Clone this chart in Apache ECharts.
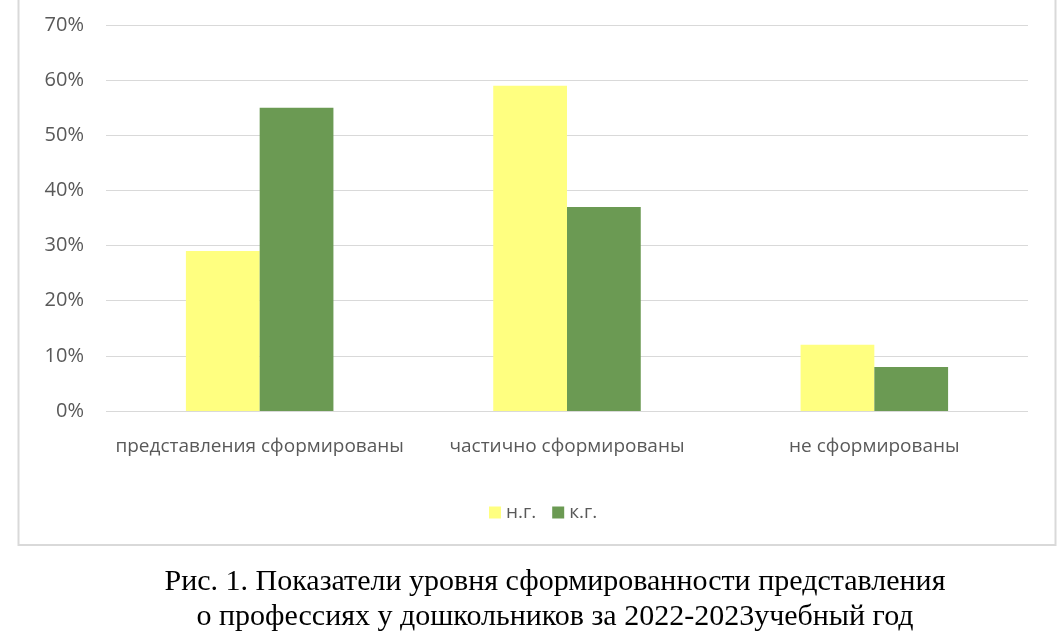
<!DOCTYPE html>
<html>
<head>
<meta charset="utf-8">
<script src="https://cdn.jsdelivr.net/npm/echarts@6/dist/echarts.min.js"></script>
<style>
  html, body { margin: 0; padding: 0; background: #fff; }
  #chart { width: 1060px; height: 637px; }
</style>
</head>
<body>
<div id="chart"></div>
<script>
// данные
var categories = ['представления сформированы', 'частично сформированы', 'не сформированы'];
var seriesNames = ['н.г.', 'к.г.'];
var ngValues = [29, 59, 12];
var kgValues = [55, 37, 8];
var captionLines = [
    'Рис. 1. Показатели уровня сформированности представления',
    'о профессиях у дошкольников за 2022-2023учебный год'
];

var colors = ['#FFFF80', '#6B9A53'];
var labelFont = '"Open Sans", "Noto Sans", sans-serif';
var captionFont = '"Liberation Serif", "Times New Roman", serif';

var myChart = echarts.init(document.getElementById('chart'));
var option = {
    color: colors,
    animation: false,
    grid: {
        left: 106,
        right: 32,
        top: 25,
        bottom: 226,
        containLabel: false
    },
    legend: {
        data: seriesNames,
        left: 484,
        top: 498,
        itemWidth: 12,
        itemHeight: 12,
        itemGap: 16,
        icon: 'rect',
        textStyle: {
            color: '#595959',
            fontSize: 19,
            fontFamily: labelFont
        }
    },
    xAxis: {
        type: 'category',
        data: categories,
        axisLine: { show: false },
        axisTick: { show: false },
        axisLabel: {
            interval: 0,
            color: '#595959',
            fontSize: 19,
            fontFamily: labelFont,
            margin: 26
        }
    },
    yAxis: {
        type: 'value',
        min: 0,
        max: 70,
        interval: 10,
        axisLine: { show: false },
        axisTick: { show: false },
        axisLabel: {
            color: '#595959',
            fontSize: 20,
            fontFamily: labelFont,
            margin: 22,
            formatter: '{value}%'
        },
        splitLine: {
            lineStyle: { color: '#D9D9D9', width: 1 }
        }
    },
    series: [
        {
            name: seriesNames[0],
            type: 'bar',
            data: ngValues,
            barGap: '0%',
            barCategoryGap: '52%'
        },
        {
            name: seriesNames[1],
            type: 'bar',
            data: kgValues,
            barGap: '0%',
            barCategoryGap: '52%'
        }
    ],
    graphic: [
        {
            type: 'rect',
            shape: { x: 18.5, y: -10, width: 1037, height: 555 },
            style: { fill: 'none', stroke: '#D9D9D9', lineWidth: 2 },
            z: -1
        },
        {
            type: 'text',
            x: 555,
            y: 567,
            style: {
                text: captionLines[0],
                align: 'center',
                fill: '#000',
                fontSize: 30,
                fontFamily: captionFont
            }
        },
        {
            type: 'text',
            x: 555,
            y: 602,
            style: {
                text: captionLines[1],
                align: 'center',
                fill: '#000',
                fontSize: 30,
                fontFamily: captionFont
            }
        }
    ]
};

myChart.setOption(option);
</script>
</body>
</html>
